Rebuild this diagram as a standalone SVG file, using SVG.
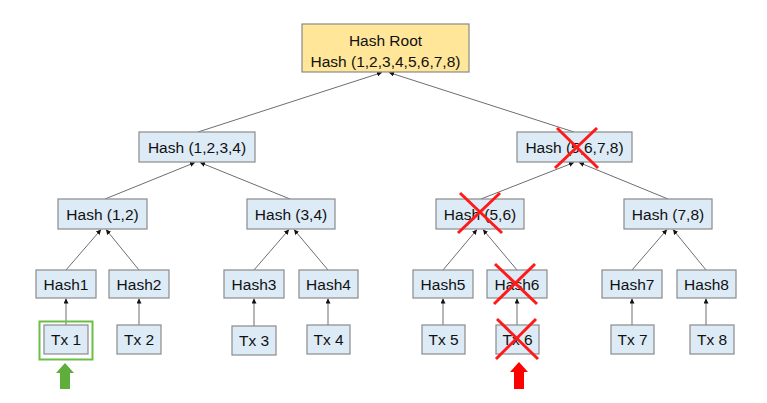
<svg xmlns="http://www.w3.org/2000/svg" width="767" height="403" viewBox="0 0 767 403">
<defs>
<marker id="ah" viewBox="0 0 6 6" refX="6" refY="3" markerWidth="5" markerHeight="5" markerUnits="userSpaceOnUse" orient="auto">
<path d="M0,0 L6,3 L0,6 Z" fill="#111"/>
</marker>
<style>
.box{fill:#DDEBF7;stroke:#8A8A8A;stroke-width:1.2}
.root{fill:#FFE699;stroke:#8A8A8A;stroke-width:1.2}
.t{font-family:"Liberation Sans",Arial,sans-serif;font-size:15.5px;fill:#111;text-anchor:middle}
.c{stroke:#6E6E6E;stroke-width:1;fill:none;marker-end:url(#ah)}
.x{stroke:#FF1A1A;stroke-width:3;stroke-linecap:butt}
</style>
</defs>
<rect width="767" height="403" fill="#fff"/>
<g id="connectors">
<line class="c" x1="198" y1="132" x2="382" y2="72.5"/>
<line class="c" x1="574" y1="132" x2="389" y2="72.5"/>
<line class="c" x1="105" y1="199" x2="195" y2="162.5"/>
<line class="c" x1="290" y1="199" x2="200" y2="162.5"/>
<line class="c" x1="481" y1="199" x2="574" y2="162.5"/>
<line class="c" x1="668" y1="199" x2="579" y2="162.5"/>
<line class="c" x1="66" y1="270" x2="101" y2="229.5"/>
<line class="c" x1="139" y1="270" x2="106" y2="229.5"/>
<line class="c" x1="254" y1="270" x2="289" y2="229.5"/>
<line class="c" x1="328" y1="270" x2="294" y2="229.5"/>
<line class="c" x1="443" y1="270" x2="477" y2="229.5"/>
<line class="c" x1="517" y1="270" x2="483" y2="229.5"/>
<line class="c" x1="632" y1="270" x2="667" y2="229.5"/>
<line class="c" x1="706" y1="270" x2="673" y2="229.5"/>
<line class="c" x1="66" y1="325" x2="66" y2="298.5"/>
<line class="c" x1="139" y1="325" x2="139" y2="298.5"/>
<line class="c" x1="254" y1="326" x2="254" y2="298.5"/>
<line class="c" x1="328" y1="325" x2="328" y2="298.5"/>
<line class="c" x1="443" y1="325" x2="443" y2="298.5"/>
<line class="c" x1="517" y1="325" x2="517" y2="298.5"/>
<line class="c" x1="632" y1="325" x2="632" y2="298.5"/>
<line class="c" x1="706" y1="325" x2="706" y2="298.5"/>
</g>
<g id="root"><rect class="root" x="302" y="24" width="167" height="48"/><text class="t" x="385.5" y="46">Hash Root</text><text class="t" x="385.5" y="67">Hash (1,2,3,4,5,6,7,8)</text></g>
<g id="h1234"><rect class="box" x="139" y="132" width="116" height="30"/><text class="t" x="197" y="152.5">Hash (1,2,3,4)</text></g>
<g id="h5678"><rect class="box" x="517" y="132" width="115" height="30"/><text class="t" x="574.5" y="152.5">Hash (5,6,7,8)</text></g>
<g id="h12"><rect class="box" x="58" y="199" width="89" height="30"/><text class="t" x="102.5" y="219.5">Hash (1,2)</text></g>
<g id="h34"><rect class="box" x="247" y="199" width="88" height="30"/><text class="t" x="291" y="219.5">Hash (3,4)</text></g>
<g id="h56"><rect class="box" x="436" y="199" width="88" height="30"/><text class="t" x="480" y="219.5">Hash (5,6)</text></g>
<g id="h78"><rect class="box" x="624" y="199" width="88" height="30"/><text class="t" x="668" y="219.5">Hash (7,8)</text></g>
<g id="hash1"><rect class="box" x="36" y="270" width="60" height="28"/><text class="t" x="66" y="289.5">Hash1</text></g>
<g id="hash2"><rect class="box" x="109" y="270" width="60" height="28"/><text class="t" x="139" y="289.5">Hash2</text></g>
<g id="hash3"><rect class="box" x="224" y="270" width="60" height="28"/><text class="t" x="254" y="289.5">Hash3</text></g>
<g id="hash4"><rect class="box" x="299" y="270" width="59" height="28"/><text class="t" x="328.5" y="289.5">Hash4</text></g>
<g id="hash5"><rect class="box" x="413" y="270" width="60" height="28"/><text class="t" x="443" y="289.5">Hash5</text></g>
<g id="hash6"><rect class="box" x="487" y="270" width="60" height="28"/><text class="t" x="517" y="289.5">Hash6</text></g>
<g id="hash7"><rect class="box" x="602" y="270" width="60" height="28"/><text class="t" x="632" y="289.5">Hash7</text></g>
<g id="hash8"><rect class="box" x="677" y="270" width="59" height="28"/><text class="t" x="706.5" y="289.5">Hash8</text></g>
<g id="tx1"><rect x="39.5" y="321.5" width="53" height="38" fill="none" stroke="#6CBF46" stroke-width="2"/><rect class="box" x="44" y="325" width="44" height="29"/><text class="t" x="66" y="345">Tx 1</text></g>
<g id="tx2"><rect class="box" x="117" y="325" width="44" height="29"/><text class="t" x="139" y="345">Tx 2</text></g>
<g id="tx3"><rect class="box" x="232" y="326" width="44" height="29"/><text class="t" x="254" y="346">Tx 3</text></g>
<g id="tx4"><rect class="box" x="307" y="325" width="43" height="29"/><text class="t" x="328.5" y="345">Tx 4</text></g>
<g id="tx5"><rect class="box" x="422" y="325" width="43" height="29"/><text class="t" x="443.5" y="345">Tx 5</text></g>
<g id="tx6"><rect class="box" x="496" y="325" width="43" height="29"/><text class="t" x="517.5" y="345">Tx 6</text></g>
<g id="tx7"><rect class="box" x="611" y="325" width="43" height="29"/><text class="t" x="632.5" y="345">Tx 7</text></g>
<g id="tx8"><rect class="box" x="690" y="325" width="44" height="29"/><text class="t" x="712" y="345">Tx 8</text></g>
<g id="green-arrow"><path d="M65,363 L74,373 L70,373 L70,389 L60,389 L60,373 L56,373 Z" fill="#5FAE3B"/></g>
<g id="red-arrow"><path d="M519,362 L528,372 L524,372 L524,389 L514,389 L514,372 L510,372 Z" fill="#FF0000"/></g>
<g id="crosses">
<line class="x" x1="557" y1="128" x2="598" y2="168"/><line class="x" x1="597" y1="128" x2="555" y2="168"/>
<line class="x" x1="460" y1="193" x2="502" y2="233"/><line class="x" x1="500" y1="193" x2="458" y2="233"/>
<line class="x" x1="495" y1="264" x2="537" y2="304"/><line class="x" x1="535" y1="264" x2="494" y2="304"/>
<line class="x" x1="497" y1="319" x2="538" y2="359"/><line class="x" x1="536" y1="319" x2="496" y2="359"/>
</g>
</svg>
